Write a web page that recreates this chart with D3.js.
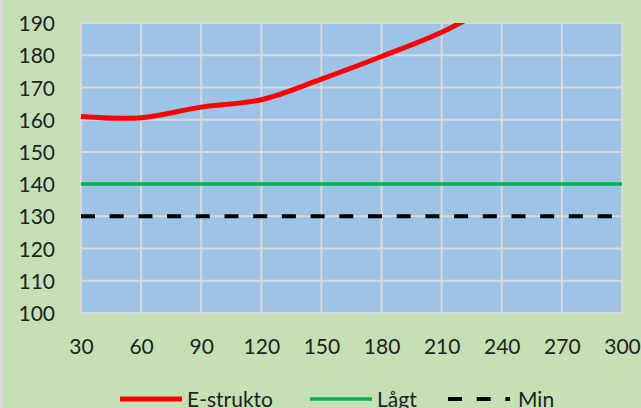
<!DOCTYPE html>
<html>
<head>
<meta charset="utf-8">
<script src="https://cdn.jsdelivr.net/npm/d3@7"></script>
<style>
  html, body { margin: 0; padding: 0; background: #c5e0b4; }
  svg { display: block; }
</style>
</head>
<body>
<div id="content"></div>
<script>
'use strict';

var xTicks = [30, 60, 90, 120, 150, 180, 210, 240, 270, 300];
var yTicks = [100, 110, 120, 130, 140, 150, 160, 170, 180, 190];
var strukto = [161, 160.6, 163.9, 166.2, 172.6, 179.6, 187.1, 197, 206, 215];
var lagt = [140, 140, 140, 140, 140, 140, 140, 140, 140, 140];
var minimum = [130, 130, 130, 130, 130, 130, 130, 130, 130, 130];
var seriesNames = ['E-strukto', 'Lågt', 'Min'];

var Utils = {
    createContext: function (selector, width, height) {
        var margin = {
            top: 23,
            left: 81,
            bottom: 95,
            right: 19
        };

        var svg = d3.select(selector)
            .append('svg')
            .attr('width', width)
            .attr('height', height);

        var chart = svg.append('g')
            .attr('transform', 'translate(' + margin.left + ' ' + margin.top + ')');

        return {
            svg: svg,
            chart: chart,
            size: {
                width: width - margin.left - margin.right,
                height: height - margin.top - margin.bottom
            },
            margin: margin
        };
    }
};

function run() {
    var width = 641, height = 408;
    var font = '21px Lato, "Open Sans", sans-serif';
    var context = Utils.createContext('#content', width, height);
    var w = context.size.width, h = context.size.height;

    // chart area background and its left edge
    context.svg.insert('rect', ':first-child')
        .attr('width', width)
        .attr('height', height)
        .style('fill', '#c5e0b4');
    context.svg.append('line')
        .attr('x1', 1.5).attr('x2', 1.5)
        .attr('y1', 0).attr('y2', height)
        .style('stroke', '#d9d9d9')
        .style('stroke-width', 3);

    var x = d3.scaleLinear()
        .domain([30, 300])
        .range([0, w]);

    var y = d3.scaleLinear()
        .domain([100, 190])
        .range([h, 0]);

    context.chart.append('rect')
        .attr('width', w)
        .attr('height', h)
        .style('fill', '#9dc3e6');

    context.svg.append('defs')
        .append('clipPath')
        .attr('id', 'plot-clip')
        .append('rect')
        .attr('x', -2)
        .attr('y', 0)
        .attr('width', w + 4)
        .attr('height', h);

    // gridlines
    context.chart.append('g')
        .selectAll('line')
        .data(xTicks)
        .enter()
        .append('line')
        .attr('x1', function (d) { return x(d); })
        .attr('x2', function (d) { return x(d); })
        .attr('y1', 0)
        .attr('y2', h)
        .style('stroke', '#d9d9d9')
        .style('stroke-width', 2);

    context.chart.append('g')
        .selectAll('line')
        .data(yTicks)
        .enter()
        .append('line')
        .attr('x1', 0)
        .attr('x2', w)
        .attr('y1', function (d) { return y(d); })
        .attr('y2', function (d) { return y(d); })
        .style('stroke', '#d9d9d9')
        .style('stroke-width', 2);

    // axes (labels only)
    y.axis = context.chart.append('g')
        .attr('transform', 'translate(-26 0)')
        .call(d3.axisLeft(y).tickValues(yTicks).tickSize(0).tickPadding(0));

    x.axis = context.chart.append('g')
        .attr('transform', 'translate(0 ' + (h + 33) + ')')
        .call(d3.axisBottom(x).tickValues(xTicks).tickSize(0).tickPadding(0));

    [x.axis, y.axis].forEach(function (axis) {
        axis.select('.domain').remove();
        axis.selectAll('text')
            .style('font', font)
            .style('fill', '#222');
    });
    y.axis.selectAll('text').attr('dy', '0.36em');
    x.axis.selectAll('text').attr('dy', '0.36em');

    var series = [
        { name: seriesNames[0], values: strukto, color: '#ff0000', width: 5, dash: null },
        { name: seriesNames[1], values: lagt, color: '#00b050', width: 3.5, dash: null },
        { name: seriesNames[2], values: minimum, color: '#000000', width: 4, dash: '14 14.7' }
    ];

    var line = d3.line()
        .x(function (d, i) { return x(xTicks[i]); })
        .y(function (d) { return y(d); })
        .curve(d3.curveCatmullRom.alpha(0.5));

    context.chart.append('g')
        .attr('clip-path', 'url(#plot-clip)')
        .selectAll('path')
        .data(series.slice().reverse())
        .enter()
        .append('path')
        .attr('d', function (d) { return line(d.values); })
        .style('fill', 'none')
        .style('stroke', function (d) { return d.color; })
        .style('stroke-width', function (d) { return d.width; })
        .style('stroke-dasharray', function (d) { return d.dash; });

    // legend
    var legendX = [120, 310, 448];
    var legendY = 399;
    var legend = context.svg.append('g')
        .selectAll('g')
        .data(series)
        .enter()
        .append('g')
        .attr('transform', function (d, i) { return 'translate(' + legendX[i] + ' ' + legendY + ')'; });

    legend.append('line')
        .attr('x1', 0)
        .attr('x2', function (d, i) { return i === 2 ? 62 : 62; })
        .style('stroke', function (d) { return d.color; })
        .style('stroke-width', function (d) { return d.width; })
        .style('stroke-dasharray', function (d) { return d.dash; });

    legend.append('text')
        .attr('x', function (d, i) { return i === 2 ? 70 : 67; })
        .attr('dy', '0.36em')
        .style('font', font)
        .style('fill', '#222')
        .text(function (d) { return d.name; });
}

document.addEventListener('DOMContentLoaded', run);
</script>
</body>
</html>
